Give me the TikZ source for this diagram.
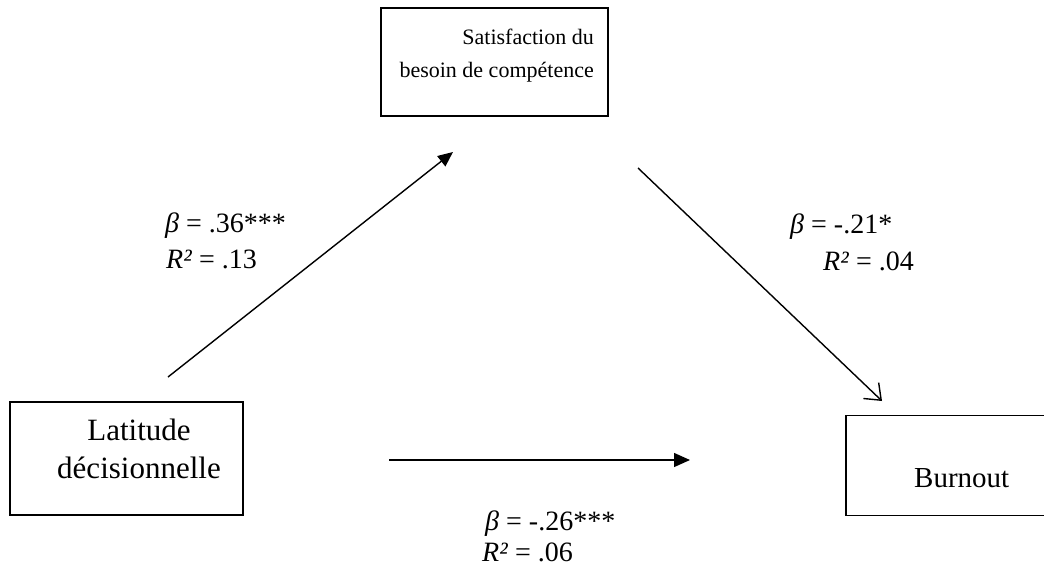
\documentclass[tikz,border=0pt]{standalone}
\usepackage{fontspec}
\setmainfont{Liberation Serif}
\usepackage{tikz}
\usetikzlibrary{arrows.meta}

\tikzset{
  varbox/.style={draw=black, line width=1.2pt, rectangle},
  boxtext/.style={font=\fontsize{30}{38}\selectfont, inner sep=0pt},
  coeff/.style={font=\fontsize{28}{33}\selectfont, inner sep=0pt, anchor=base west},
  path/.style={line width=1.4pt}
}

\begin{document}
\begin{tikzpicture}[x=1pt,y=-1pt]
\useasboundingbox (0,0) rectangle (1044,567);
\clip (0,0) rectangle (1044,567);
\coordinate (lt) at (168,377);
\coordinate (sb) at (453,152);
\coordinate (st) at (638,168);
\coordinate (bo) at (882,401);
\coordinate (ll) at (389,460);
\coordinate (lr) at (690,460);
% draws boxes
\node[varbox, minimum width=227pt, minimum height=108pt] (sat) at (494.5,62) {};
\node[varbox, minimum width=233pt, minimum height=113pt] (lat) at (126.5,458.5) {};
\node[varbox, minimum width=214pt, minimum height=100pt] (burn) at (953,465.5) {};
% labels boxes
\node[boxtext, font=\fontsize{22}{33}\selectfont, align=right, anchor=base east] (sattext) at (594,78) {Satisfaction du\\besoin de compétence};
\node[boxtext, font=\fontsize{31}{38}\selectfont, align=center, anchor=base] (lattext) at (139,478) {Latitude\\décisionnelle};
\node[boxtext, font=\fontsize{29}{36}\selectfont, anchor=base west] (burntext) at (914,487) {Burnout};
% labels paths
\node[coeff] (beta1) at (165,232) {\textit{β} = .36***};
\node[coeff] (rsq1) at (166,268) {\textit{R²} = .13};
\node[coeff] (beta2) at (790,233) {\textit{β} = -.21*};
\node[coeff] (rsq2) at (823,270) {\textit{R²} = .04};
\node[coeff] (beta3) at (485,530) {\textit{β} = -.26***};
\node[coeff] (rsq3) at (482,561) {\textit{R²} = .06};
% draws paths
\draw[path, -{Triangle[length=15pt,width=13pt]}] (lt) -- (sb);
\draw[path, -{Straight Barb[length=14pt,width=22pt]}] (st) -- (bo);
\draw[path, -{Triangle[length=16pt,width=14pt]}] (ll) -- (lr);
\end{tikzpicture}
\end{document}
